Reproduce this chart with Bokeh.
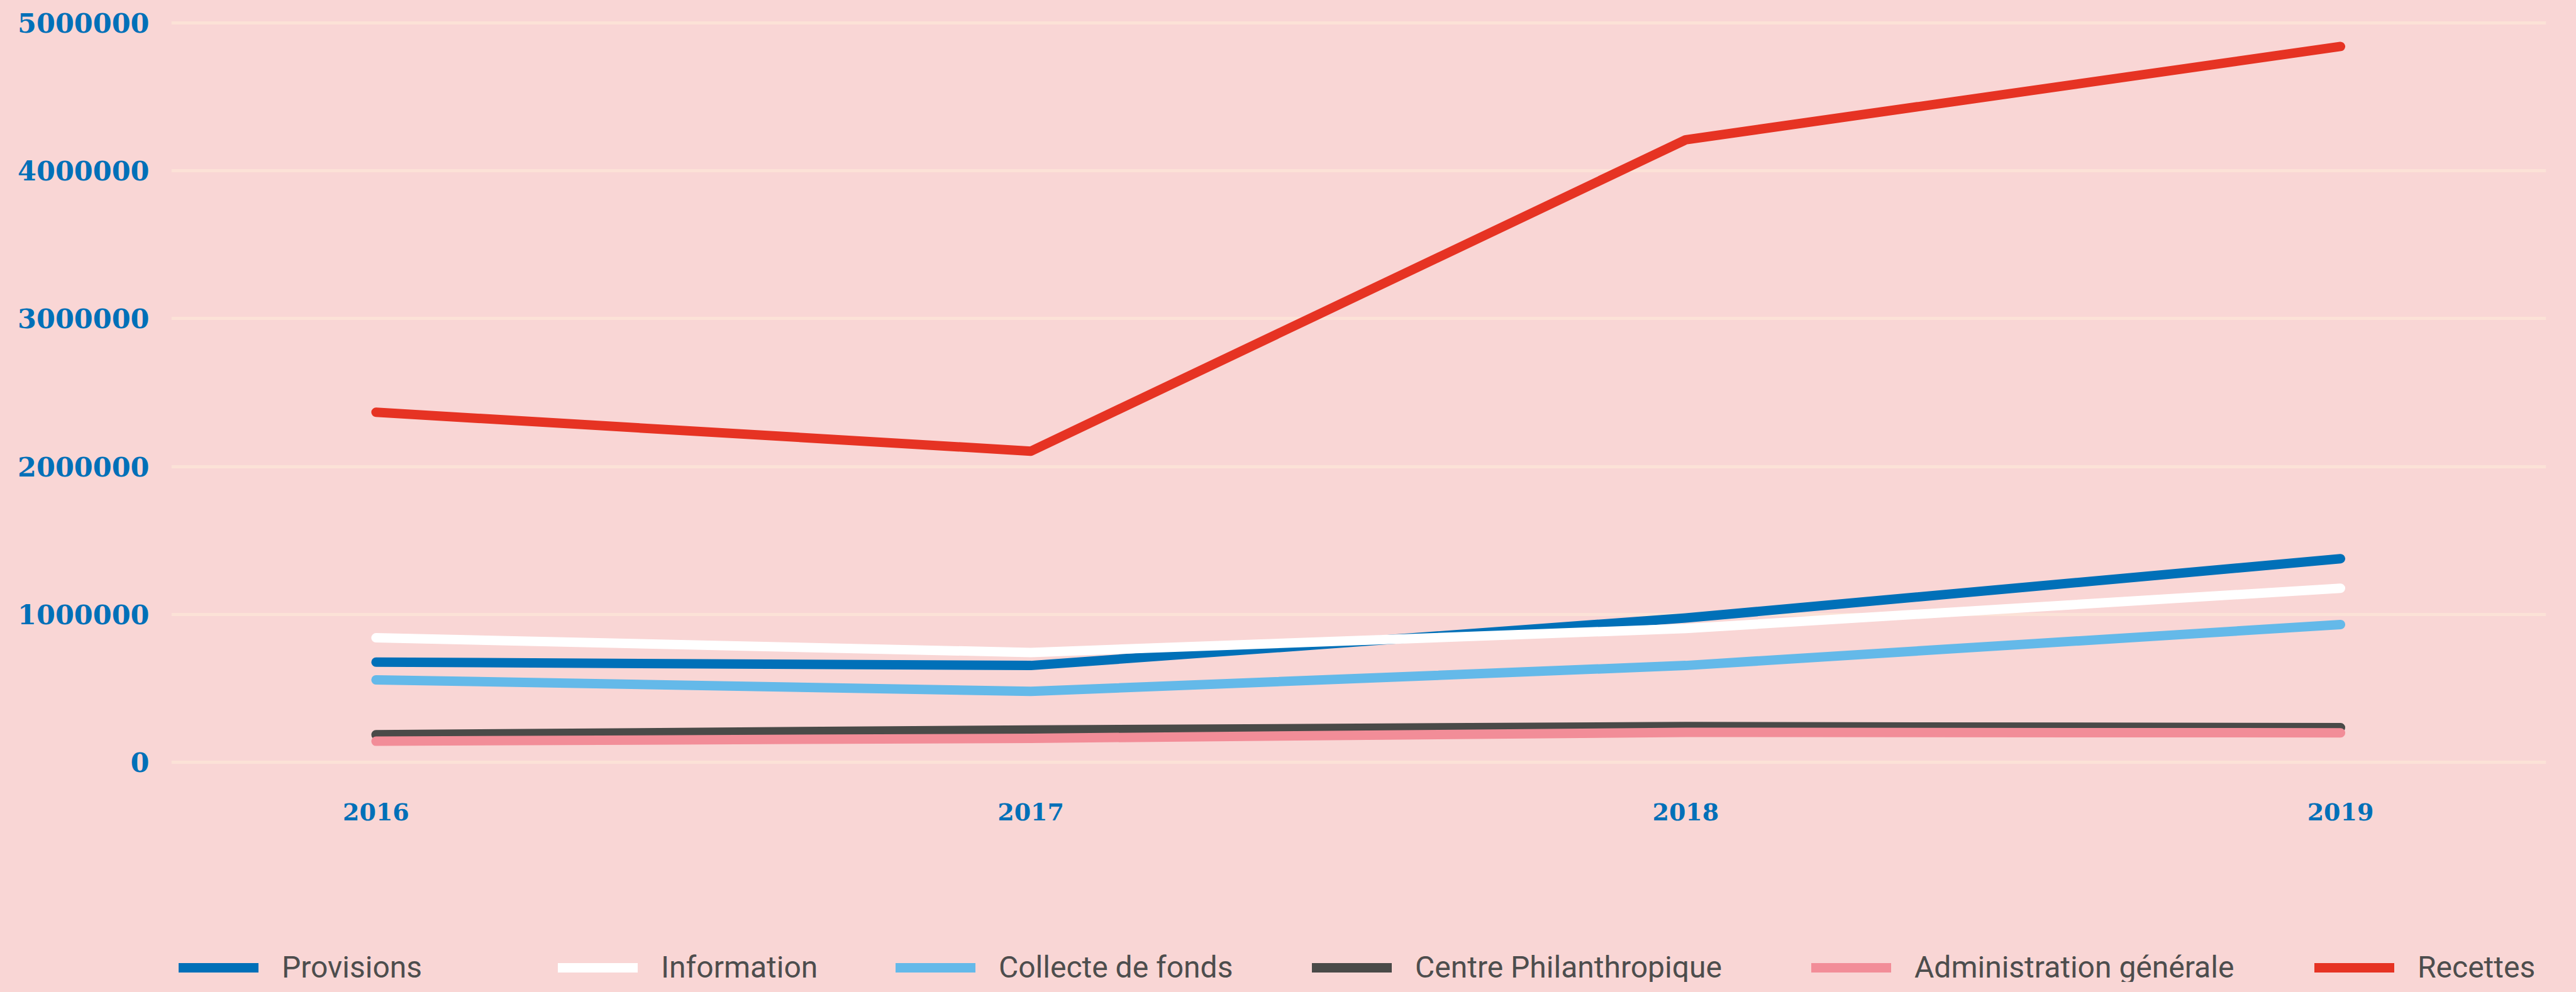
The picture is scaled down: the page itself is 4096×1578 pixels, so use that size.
from bokeh.plotting import figure
from bokeh.layouts import column
from bokeh.models import Range1d, FixedTicker, Legend, LegendItem
from bokeh.embed import file_html
from bokeh.resources import INLINE

# ---- data ----
years = [2016, 2017, 2018, 2019]
year_labels = ["2016", "2017", "2018", "2019"]

provisions = [678000, 655000, 976000, 1377000]
information = [842000, 743000, 905000, 1177000]
collecte = [558000, 480000, 655000, 932000]
centre = [187000, 219000, 242000, 235000]
administration = [143000, 163000, 203000, 200000]
recettes = [2367000, 2104000, 4209000, 4840000]

series_names = ["Provisions", "Information", "Collecte de fonds",
                "Centre Philanthropique", "Administration générale", "Recettes"]
series_colors = ["#0070B8", "#FFFFFF", "#64B9E9", "#4A4A48", "#F28D98", "#E63323"]

y_ticks = [0, 1000000, 2000000, 3000000, 4000000, 5000000]
y_tick_labels = ["0", "1000000", "2000000", "3000000", "4000000", "5000000"]

BG = "#F9D6D5"
W = 4080

series = [provisions, information, collecte, centre, administration, recettes]

# ---- main chart ----
p = figure(width=W, height=1340,
           x_range=Range1d(2015.6875, 2019.314),
           y_range=Range1d(-50000, 5050000),
           output_backend="svg", toolbar_location=None,
           min_border_left=272, min_border_right=32,
           min_border_top=24, min_border_bottom=116)
p.background_fill_color = BG
p.background_fill_alpha = 0
p.border_fill_color = BG
p.outline_line_color = None

for vals, col in zip(series, series_colors):
    p.line(years, vals, line_color=col, line_width=15,
           line_cap="round", line_join="round")

xa = p.xaxis[0]
xa.ticker = FixedTicker(ticks=years)
xa.major_label_overrides = dict(zip(years, year_labels))
ya = p.yaxis[0]
ya.ticker = FixedTicker(ticks=y_ticks)
ya.major_label_overrides = dict(zip(y_ticks, y_tick_labels))
for ax in (xa, ya):
    ax.axis_line_color = None
    ax.major_tick_line_color = None
    ax.minor_tick_line_color = None
    ax.major_label_text_font = "DejaVu Serif"
    ax.major_label_text_font_style = "bold"
    ax.major_label_text_color = "#0070B8"
ya.major_label_text_font_size = "43px"
xa.major_label_text_font_size = "38px"
xa.major_label_standoff = 47
ya.major_label_standoff = 29

p.xgrid.visible = False
p.ygrid.ticker = FixedTicker(ticks=y_ticks)
p.ygrid.grid_line_color = "#FCE2D7"
p.ygrid.grid_line_width = 5

# ---- legend strip ----
p2 = figure(width=W, height=222, x_range=p.x_range, y_range=p.y_range,
            output_backend="svg", toolbar_location=None,
            min_border_left=0, min_border_right=0,
            min_border_top=0, min_border_bottom=0)
p2.axis.visible = False
p2.grid.visible = False
p2.background_fill_color = BG
p2.background_fill_alpha = 0
p2.border_fill_color = BG
p2.outline_line_color = None

leg_renderers = []
for vals, col in zip(series, series_colors):
    r = p2.line(years, vals, line_color=col, line_width=15, line_cap="round")
    r.visible = False
    leg_renderers.append(r)

# one legend entry per item, placed like the reference's legend row
legend_x = [12, 615, 1152, 1814, 2608, 3408]
for name, r, lx in zip(series_names, leg_renderers, legend_x):
    lg = Legend(items=[LegendItem(label=name, renderers=[r])],
                orientation="horizontal", location=(lx, -5))
    lg.label_text_font = "Roboto"
    lg.label_text_font_size = "48px"
    lg.label_text_color = "#4D4D4D"
    lg.glyph_width = 127
    lg.glyph_height = 40
    lg.label_height = 40
    lg.label_standoff = 37
    lg.padding = 0
    lg.margin = 0
    lg.background_fill_alpha = 0
    lg.border_line_color = None
    p2.add_layout(lg)

layout = column(p, p2, spacing=0)
html = file_html(layout, INLINE)
html = html.replace("</head>", "<style>html, body { background-color: #F9D6D5; }</style></head>", 1)
open("out.html", "w").write(html)
